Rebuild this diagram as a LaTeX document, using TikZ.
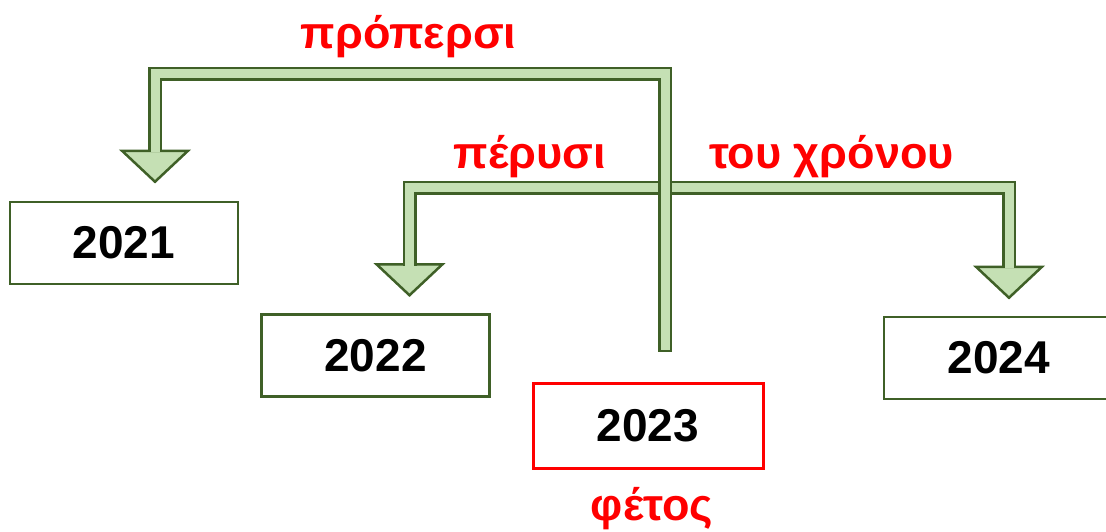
\documentclass[tikz,border=0pt]{standalone}
\usepackage{fontspec}
\setmainfont{Liberation Sans}
\usetikzlibrary{positioning,calc}
\definecolor{leafdark}{HTML}{3F6027}
\definecolor{leaflight}{HTML}{C5E0B4}
\definecolor{markred}{HTML}{FF0000}

\begin{document}
\begin{tikzpicture}[x=1pt,y=-1pt,
	year/.style={rectangle, draw=leafdark, line width=2.5pt, minimum width=228pt, minimum height=82pt, font=\fontsize{46}{46}\selectfont\bfseries},
	now/.style={year, draw=markred, line width=3pt, minimum width=230pt, minimum height=85pt},
	word/.style={inner sep=0, anchor=base, text=markred, font=\fontsize{45}{45}\selectfont\bfseries},
	bar/.style={draw=leafdark, line width=2.5pt, double=leaflight, double distance=9pt, line join=miter},
	blockhead/.style={draw=leafdark, fill=leaflight, line width=2.5pt, line join=miter}]

	\useasboundingbox (0,0) rectangle (1106,531);

	\node[year] (y2021) at (124,243) {2021};
	\node[year] (y2022) at (375.5,355.5) {2022};
	\node[now] (y2023) at (648,425.5) {2023};
	\node[year, minimum width=230pt] (y2024) at (999,358) {2024};

	\node[word] (ago2) at (408.5,48) {πρόπερσι};
	\node[word] (ago1) at (530,168) {πέρυσι};
	\node[word] (next) at (831.5,168) {του χρόνου};
	\node[word] (thisyr) at (652,520) {φέτος};

	\coordinate (tip21) at ($(y2021.north)+(31,-19)$);
	\coordinate (tip22) at ($(y2022.north)+(34,-18)$);
	\coordinate (tip24) at ($(y2024.north)+(10,-18)$);
	\coordinate (stemfoot) at (665,351);

	% heads first, the bars run into them
	\foreach \t in {tip21,tip22,tip24}
		\draw[blockhead] (\t) -- ++(-33,-31) -- ++(66,0) -- cycle;

	\draw[bar] ($(tip22)+(0,-29.5)$) |- ($(tip24)+(0,-110)$) -- ($(tip24)+(0,-29.5)$);
	\draw[bar] (stemfoot) |- ($(tip21)+(0,-108)$) -- ($(tip21)+(0,-29.5)$);
	\draw[leafdark, line width=2.5pt] ([xshift=-7pt]stemfoot) -- ([xshift=7pt]stemfoot);
\end{tikzpicture}
\end{document}
